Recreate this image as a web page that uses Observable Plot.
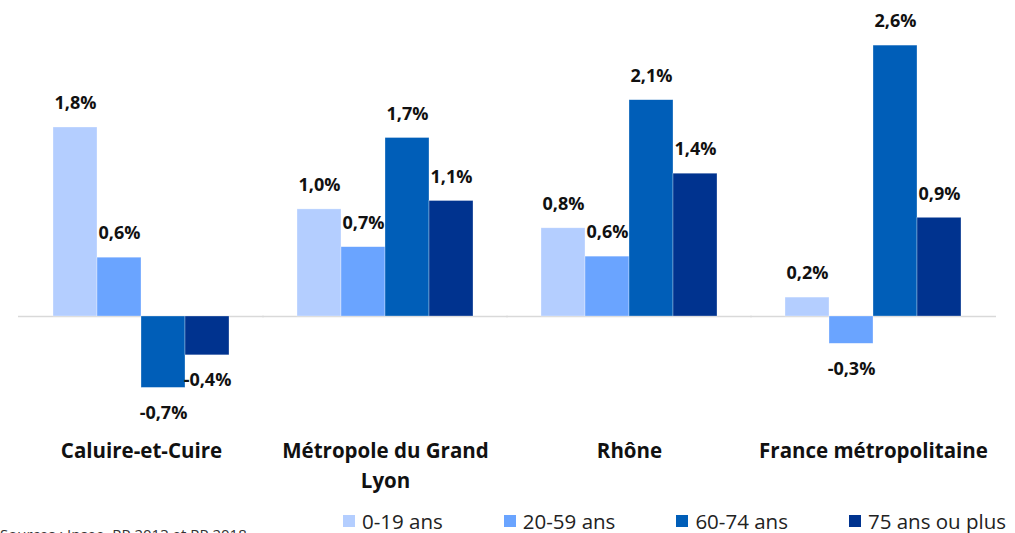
<!DOCTYPE html>
<html><head><meta charset="utf-8">
<script src="https://cdn.jsdelivr.net/npm/d3@7"></script>
<script src="https://cdn.jsdelivr.net/npm/@observablehq/plot@0.6"></script>
<style>
body{margin:0;background:#fff;font-family:"Open Sans",sans-serif;}
#chart{position:relative;width:1015px;height:533px;overflow:hidden;background:#fff}
#legend{position:absolute;left:343px;top:511px;display:flex;align-items:center;font-size:20.5px;line-height:20px;color:#222;white-space:nowrap}
.item{display:flex;align-items:center;margin-right:61px}
.item:last-child{margin-right:0}
.sw{width:12px;height:12px;margin-right:7px}
#source{position:absolute;left:0;top:527px;font-size:15px;line-height:15px;color:#333;white-space:nowrap}
</style></head><body><div id="chart"><div id="source">Sources : Insee, RP 2013 et RP 2018</div></div>
<script>
const regions = ["Caluire-et-Cuire", "Métropole du Grand Lyon", "Rhône", "France métropolitaine"];
const regionLabels = ["Caluire-et-Cuire", "Métropole du Grand\nLyon", "Rhône", "France métropolitaine"];
const ages = ["0-19 ans", "20-59 ans", "60-74 ans", "75 ans ou plus"];
const colors = ["#b4ceff", "#6aa4ff", "#005eb8", "#00338f"];
const v0_19 = [1.80, 1.02, 0.84, 0.18];
const v20_59 = [0.56, 0.66, 0.57, -0.26];
const v60_74 = [-0.68, 1.70, 2.06, 2.58];
const v75 = [-0.37, 1.10, 1.36, 0.94];

const series = [v0_19, v20_59, v60_74, v75];
const data = [];
regions.forEach((r, i) => ages.forEach((a, j) => data.push({region: r, age: a, value: series[j][i]})));
const fmt = v => v.toFixed(1).replace(".", ",") + "%";

const plot = Plot.plot({
  width: 1015, height: 500,
  marginLeft: 18, marginRight: 18, marginTop: 11.5, marginBottom: 68.5,
  style: {fontFamily: "Open Sans", background: "transparent", color: "#000"},
  fx: {domain: regions, paddingInner: 0.27, paddingOuter: 0.135, axis: null, label: null},
  x: {domain: ages, padding: 0, axis: null},
  y: {domain: [-1.1, 2.9], axis: null},
  color: {domain: ages, range: colors},
  marks: [
    Plot.ruleY([0], {stroke: "#d9d9d9", strokeWidth: 1.5, insetLeft: -34, insetRight: -34}),
    Plot.barY(data, {fx: "region", x: "age", y: "value", fill: "age", stroke: "#ffffff", strokeWidth: 0.6, strokeOpacity: 0.5}),
    Plot.text(data.filter(d => d.value >= 0), {fx: "region", x: "age", y: "value", text: d => fmt(d.value), dy: -24, fontWeight: "bold", fontSize: 18, fill: "#111"}),
    Plot.text(data.filter(d => d.value < 0), {fx: "region", x: "age", y: "value", text: d => fmt(d.value), dy: 25, fontWeight: "bold", fontSize: 18, fill: "#111"}),
    Plot.text(regions, {fx: d => d, text: (d, i) => regionLabels[i], frameAnchor: "bottom", lineAnchor: "top", dy: 5, lineHeight: 1.46, fontWeight: "bold", fontSize: 20.5, fill: "#111"})
  ]
});
const chart = document.getElementById("chart");
chart.insertBefore(plot, chart.firstChild);
plot.style.position = "absolute"; plot.style.left = "0"; plot.style.top = "0";

const legend = document.createElement("div");
legend.id = "legend";
ages.forEach((a, j) => {
  const it = document.createElement("div"); it.className = "item";
  const sw = document.createElement("span"); sw.className = "sw"; sw.style.background = colors[j];
  const t = document.createElement("span"); t.textContent = a;
  it.appendChild(sw); it.appendChild(t); legend.appendChild(it);
});
chart.appendChild(legend);
</script></body></html>
